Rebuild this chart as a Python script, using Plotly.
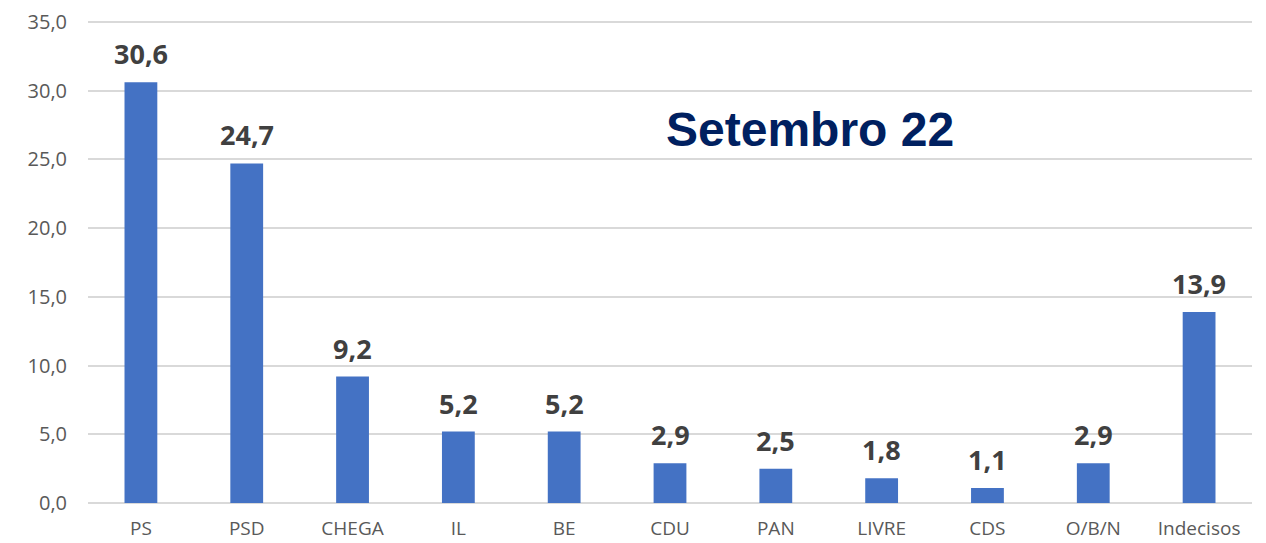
import plotly.graph_objects as go

# intenções de voto (%)
partidos = ["PS", "PSD", "CHEGA", "IL", "BE", "CDU", "PAN", "LIVRE", "CDS", "O/B/N", "Indecisos"]
valores = [30.6, 24.7, 9.2, 5.2, 5.2, 2.9, 2.5, 1.8, 1.1, 2.9, 13.9]
titulo = "Setembro 22"
y_ticks = [0, 5, 10, 15, 20, 25, 30, 35]

fig = go.Figure()

fig.add_trace(go.Bar(
    x=partidos,
    y=valores,
    marker_color="#4472C4",
    marker_line_width=0,
    width=0.31,
    hoverinfo="x+y",
))

# rótulos de dados acima das barras
for p, v in zip(partidos, valores):
    fig.add_annotation(
        x=p, y=v,
        text="<b>" + f"{v:.1f}".replace(".", ",") + "</b>",
        showarrow=False,
        yanchor="bottom",
        yshift=8,
        font=dict(family="Open Sans", size=27, color="#404040"),
    )

fig.add_annotation(
    text="<b>" + titulo + "</b>",
    xref="paper", yref="paper",
    x=0.62, y=0.765,
    xanchor="center", yanchor="middle",
    showarrow=False,
    font=dict(family="Liberation Sans", size=48, color="#002060"),
)

fig.update_layout(
    width=1266, height=543,
    margin=dict(l=80, r=22, t=7, b=48),
    plot_bgcolor="white",
    paper_bgcolor="white",
    separators=",.",
    showlegend=False,
    xaxis=dict(
        showgrid=False,
        showline=False,
        ticks="",
        automargin=False,
        ticklabelstandoff=12,
        tickfont=dict(family="Open Sans", size=19, color="#595959"),
    ),
    yaxis=dict(
        range=[0, 35.5],
        tickvals=y_ticks,
        tickformat=".1f",
        showgrid=True,
        gridcolor="#D9D9D9",
        gridwidth=1.5,
        zeroline=True,
        zerolinecolor="#D9D9D9",
        zerolinewidth=1.5,
        showline=False,
        ticks="",
        automargin=False,
        ticklabelstandoff=20,
        ticklabeloverflow="allow",
        tickfont=dict(family="Open Sans", size=20, color="#595959"),
    ),
)

fig.write_html("out.html")
